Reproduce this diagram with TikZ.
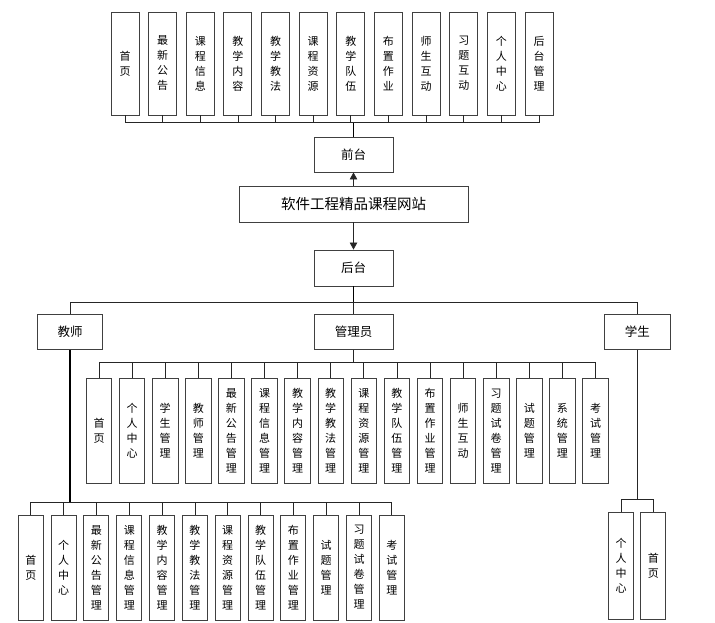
\documentclass[tikz,border=0pt]{standalone}
\usepackage{fontspec}
\newfontfamily\cjk{Noto Sans CJK SC}
\usetikzlibrary{arrows.meta}
\definecolor{boxline}{HTML}{404040}
\tikzset{
  box/.style={draw=boxline, line width=0.9pt, fill=white, inner sep=0pt, align=center, text=black},
  vbox/.style={box, minimum width=#1, minimum height=105pt, font={\cjk\fontsize{11pt}{15pt}\selectfont}},
  hbox/.style={box, minimum height=35pt, font={\cjk\fontsize{12.5pt}{15pt}\selectfont}},
  conn/.style={draw=black!85, line width=0.7pt},
  thickconn/.style={draw=black, line width=1.5pt},
  arr/.style={draw=black!85, line width=0.8pt, -{Triangle[length=7pt,width=7.5pt]}}
}
\begin{document}
\begin{tikzpicture}[x=1pt,y=-1pt]
\clip (0,0) rectangle (715,622);
\fill[white] (0,0) rectangle (715,622);
% top row
\foreach \t [count=\i] in {首\\页, 最\\新\\公\\告, 课\\程\\信\\息, 教\\学\\内\\容, 教\\学\\教\\法, 课\\程\\资\\源, 教\\学\\队\\伍, 布\\置\\作\\业, 师\\生\\互\\动, 习\\题\\互\\动, 个\\人\\中\\心, 后\\台\\管\\理}{
  \node[vbox=28pt, minimum height=103pt] (t\i) at ({125+37.64*(\i-1)},63.5) {\t};
}
\coordinate (tbus) at (0,122.5);
\foreach \i in {2,...,11}{ \draw[conn] (t\i.south) -- (t\i.south |- tbus); }
\draw[conn] (t1.south) -- (t1.south |- tbus) -| (t12.south);
% center column
\node[hbox, minimum width=79pt] (front) at (353.5,154.5) {前台};
\node[hbox, minimum width=229pt, minimum height=36pt, font={\cjk\fontsize{14.5pt}{16pt}\selectfont}] (site) at (353.5,204) {软件工程精品课程网站};
\node[hbox, minimum width=79pt, minimum height=36pt] (back) at (353.5,268) {后台};
\draw[thickconn] (front.north) -- (front.north |- tbus);
\draw[arr] (site.north) -- (front.south);
\draw[arr] (site.south) -- (back.north);
% roles
\node[hbox, minimum width=65pt] (teacher) at (70,332) {教师};
\node[hbox, minimum width=79pt] (admin) at (353.5,332) {管理员};
\node[hbox, minimum width=66pt] (student) at (637.3,332) {学生};
\coordinate (rbus) at (0,302);
\draw[thickconn] (back.south) -- (back.south |- rbus);
\draw[conn] (teacher.north) -- (teacher.north |- rbus) -| (student.north);
\draw[conn] (admin.north) -- (admin.north |- rbus);
% admin children
\foreach \t [count=\i] in {首\\页, 个\\人\\中\\心, 学\\生\\管\\理, 教\\师\\管\\理, 最\\新\\公\\告\\管\\理, 课\\程\\信\\息\\管\\理, 教\\学\\内\\容\\管\\理, 教\\学\\教\\法\\管\\理, 课\\程\\资\\源\\管\\理, 教\\学\\队\\伍\\管\\理, 布\\置\\作\\业\\管\\理, 师\\生\\互\\动, 习\\题\\试\\卷\\管\\理, 试\\题\\管\\理, 系\\统\\管\\理, 考\\试\\管\\理}{
  \node[vbox=25.5pt] (a\i) at ({99+33.1*(\i-1)},430.8) {\t};
}
\coordinate (abus) at (0,362.7);
\foreach \i in {2,...,15}{ \draw[conn] (a\i.north) -- (a\i.north |- abus); }
\draw[conn] (a1.north) -- (a1.north |- abus) -| (a16.north);
\draw[conn] (admin.south) -- (admin.south |- abus);
% teacher children
\foreach \t [count=\i] in {首\\页, 个\\人\\中\\心, 最\\新\\公\\告\\管\\理, 课\\程\\信\\息\\管\\理, 教\\学\\内\\容\\管\\理, 教\\学\\教\\法\\管\\理, 课\\程\\资\\源\\管\\理, 教\\学\\队\\伍\\管\\理, 布\\置\\作\\业\\管\\理, 试\\题\\管\\理, 习\\题\\试\\卷\\管\\理, 考\\试\\管\\理}{
  \node[vbox=25pt] (c\i) at ({30.8+32.82*(\i-1)},567.5) {\t};
}
\coordinate (cbus) at (0,502.3);
\foreach \i in {2,...,11}{ \draw[conn] (c\i.north) -- (c\i.north |- cbus); }
\draw[conn] (c1.north) -- (c1.north |- cbus) -| (c12.north);
\draw[thickconn] (teacher.south) -- (teacher.south |- cbus);
% student children
\node[vbox=25pt, minimum height=107pt] (s1) at (621,565.8) {个\\人\\中\\心};
\node[vbox=25pt, minimum height=107pt] (s2) at (653.3,565.8) {首\\页};
\coordinate (sbus) at (0,499);
\draw[conn] (student.south) -- (student.south |- sbus);
\draw[conn] (s1.north) -- (s1.north |- sbus) -| (s2.north);
\end{tikzpicture}
\end{document}
